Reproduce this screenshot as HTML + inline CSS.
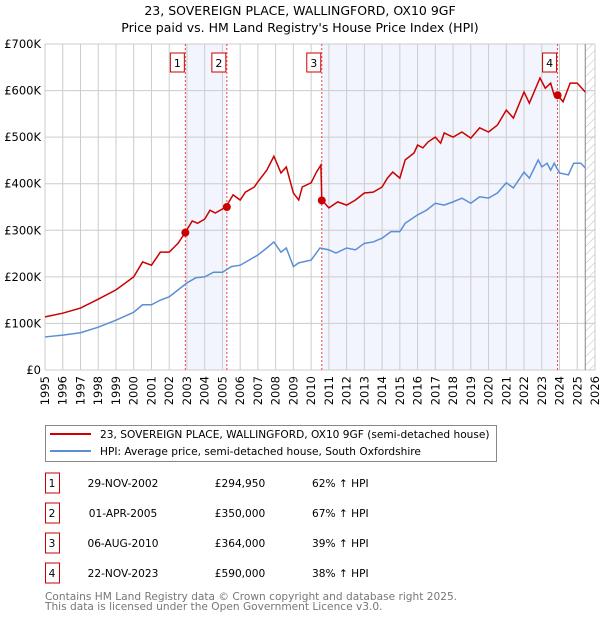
<!DOCTYPE html>
<html><head><meta charset="utf-8"><style>
body{margin:0;background:#fff;font-family:"DejaVu Sans","Liberation Sans",sans-serif}
svg text{font-family:"DejaVu Sans","Liberation Sans",sans-serif}
</style></head><body>
<svg id="c" width="600" height="620" xmlns="http://www.w3.org/2000/svg">
<defs><pattern id="hatch" width="6" height="6" patternUnits="userSpaceOnUse" patternTransform="rotate(45)"><line x1="0" y1="0" x2="0" y2="6" stroke="#bbb" stroke-width="1"/></pattern></defs>
<text x="300" y="15" text-anchor="middle" font-size="12.5">23, SOVEREIGN PLACE, WALLINGFORD, OX10 9GF</text>
<text x="300" y="32" text-anchor="middle" font-size="12.5">Price paid vs. HM Land Registry's House Price Index (HPI)</text>
<g id="plot"></g>
<g>
<rect x="45.5" y="425.5" width="451" height="36" fill="#fff" stroke="#888"/>
<line x1="50" y1="434" x2="91" y2="434" stroke="#cc0000" stroke-width="2"/>
<text x="100" y="438" font-size="10.6">23, SOVEREIGN PLACE, WALLINGFORD, OX10 9GF (semi-detached house)</text>
<line x1="50" y1="451" x2="91" y2="451" stroke="#5b8fd4" stroke-width="2"/>
<text x="100" y="455" font-size="10.6">HPI: Average price, semi-detached house, South Oxfordshire</text>
</g>
<g id="table" font-size="10.6"></g>
<text x="45" y="600" font-size="10.6" fill="#777">Contains HM Land Registry data © Crown copyright and database right 2025.</text>
<text x="45" y="610" font-size="10.6" fill="#777">This data is licensed under the Open Government Licence v3.0.</text>
</svg>
<script>
const hpiYears=[1995,1996,1997,1998,1999,2000,2000.5,2001,2001.5,2002,2002.5,2003,2003.5,2004,2004.5,2005,2005.5,2006,2006.5,2007,2007.5,2007.9,2008.3,2008.6,2009,2009.3,2010,2010.5,2011,2011.4,2012,2012.5,2013,2013.5,2014,2014.5,2015,2015.3,2016,2016.5,2017,2017.5,2018,2018.5,2019,2019.5,2020,2020.5,2021,2021.4,2022,2022.3,2022.8,2023,2023.3,2023.5,2023.7,2024,2024.5,2024.8,2025.2,2025.45];
const hpiValues=[71,75,80,92,107,124,140,140,150,157,172,187,198,200,210,210,222,225,236,247,262,275,253,262,222,230,236,262,258,251,262,258,272,275,283,297,297,315,333,343,358,354,361,369,358,372,369,380,402,391,425,412,451,436,444,429,444,423,419,444,444,434];
const propYears=[1995,1996,1997,1998,1999,2000,2000.5,2001,2001.5,2002,2002.5,2002.9,2003.3,2003.6,2004,2004.3,2004.6,2005.2,2005.6,2006,2006.3,2006.8,2007,2007.5,2007.9,2008.3,2008.6,2009,2009.3,2009.5,2010,2010.3,2010.55,2010.6,2011,2011.5,2012,2012.5,2013,2013.5,2014,2014.3,2014.6,2015,2015.3,2015.8,2016,2016.3,2016.6,2017,2017.3,2017.5,2018,2018.5,2019,2019.5,2020,2020.5,2021,2021.4,2022,2022.3,2022.9,2023.2,2023.5,2023.7,2023.9,2024.2,2024.6,2025,2025.45];
const propValues=[114,122,133,152,172,200,232,225,253,253,272,295,320,315,324,343,337,350,376,365,382,393,404,429,459,423,436,380,365,393,402,425,440,365,348,361,354,365,380,382,393,412,425,412,451,466,483,477,490,500,487,509,500,511,498,520,511,526,558,541,597,573,627,605,616,590,590,576,616,616,597];
const saleLabels=["1","2","3","4"];
const saleYears=[2002.91,2005.25,2010.6,2023.89];
const salePrices=[294.95,350,364,590];
const saleDates=["29-NOV-2002","01-APR-2005","06-AUG-2010","22-NOV-2023"];
const salePriceText=["£294,950","£350,000","£364,000","£590,000"];
const saleHpiText=["62% ↑ HPI","67% ↑ HPI","39% ↑ HPI","38% ↑ HPI"];
const yTicks=[0,100,200,300,400,500,600,700];
const yTickLabels=["£0","£100K","£200K","£300K","£400K","£500K","£600K","£700K"];
const xTicks=[1995,1996,1997,1998,1999,2000,2001,2002,2003,2004,2005,2006,2007,2008,2009,2010,2011,2012,2013,2014,2015,2016,2017,2018,2019,2020,2021,2022,2023,2024,2025,2026];

const NS="http://www.w3.org/2000/svg";
const L=45,R=595,T=44,B=370,X0=1995,X1=2026,YMAX=700;
const sx=y=>L+(y-X0)/(X1-X0)*(R-L);
const sy=v=>B-v/YMAX*(B-T);
const g=document.getElementById('plot');
function mk(tag,attrs,parent){const e=document.createElementNS(NS,tag);for(const k in attrs)e.setAttribute(k,attrs[k]);(parent||g).appendChild(e);return e;}
let b=mk('rect',{x:sx(saleYears[0]),y:T,width:sx(saleYears[1])-sx(saleYears[0]),height:B-T,fill:'#f2f5fd'});


b=mk('rect',{x:sx(saleYears[2]),y:T,width:sx(saleYears[3])-sx(saleYears[2]),height:B-T,fill:'#f2f5fd'});


let h=mk('rect',{x:sx(2025.45),y:T,width:R-sx(2025.45),height:B-T,fill:'url(#hatch)'});


xTicks.forEach(t=>{const l=mk('line',{x1:sx(t),x2:sx(t),y1:T,y2:B,stroke:'#ccc','stroke-width':1});


const tx=mk('text',{x:0,y:0,'font-size':11.5,'text-anchor':'end',transform:`translate(${sx(t)+4},${B+6}) rotate(-90)`});tx.textContent=t;

});
yTicks.forEach((t,i)=>{const l=mk('line',{x1:L,x2:R,y1:sy(t),y2:sy(t),stroke:'#ccc','stroke-width':1});


const tx=mk('text',{x:L-4,y:sy(t)+4,'font-size':11.5,'text-anchor':'end'});tx.textContent=yTickLabels[i];

});
let ln=mk('line',{x1:sx(2025.45),x2:sx(2025.45),y1:T,y2:B,stroke:'#888','stroke-width':1});


saleYears.forEach((y,i)=>{const l=mk('line',{x1:sx(y),x2:sx(y),y1:T,y2:B,stroke:'#ee4444','stroke-width':1,'stroke-dasharray':'2,2'});


const r=mk('rect',{x:sx(y)-15,y:53,width:14,height:19,fill:'#fff',stroke:'#cc0000'});


const t=mk('text',{x:sx(y)-8,y:67,'font-size':11,'text-anchor':'middle'});t.textContent=saleLabels[i];

});
const p1=mk('polyline',{points:hpiYears.map((y,i)=>sx(y)+','+sy(hpiValues[i])).join(' '),fill:'none',stroke:'#5b8fd4','stroke-width':1.5});


const p2=mk('polyline',{points:propYears.map((y,i)=>sx(y)+','+sy(propValues[i])).join(' '),fill:'none',stroke:'#cc0000','stroke-width':1.5});


saleYears.forEach((y,i)=>{const c=mk('circle',{cx:sx(y),cy:sy(salePrices[i]),r:4,fill:'#cc0000'});

});
const tb=document.getElementById('table');
saleLabels.forEach((s,i)=>{const cy=483+i*30;
const r=mk('rect',{x:45.5,y:cy-10,width:14,height:20,fill:'#fff',stroke:'#cc0000'},tb);


const cells=[[52,s,'middle'],[123,saleDates[i],'middle'],[240,salePriceText[i],'middle'],[312,saleHpiText[i],'start']];
const names=['table-index','table-date','table-price','table-hpi-change'];
cells.forEach((c,j)=>{const t=mk('text',{x:c[0],y:cy+4,'text-anchor':c[2]},tb);t.textContent=c[1];

});});
</script>
</body></html>
